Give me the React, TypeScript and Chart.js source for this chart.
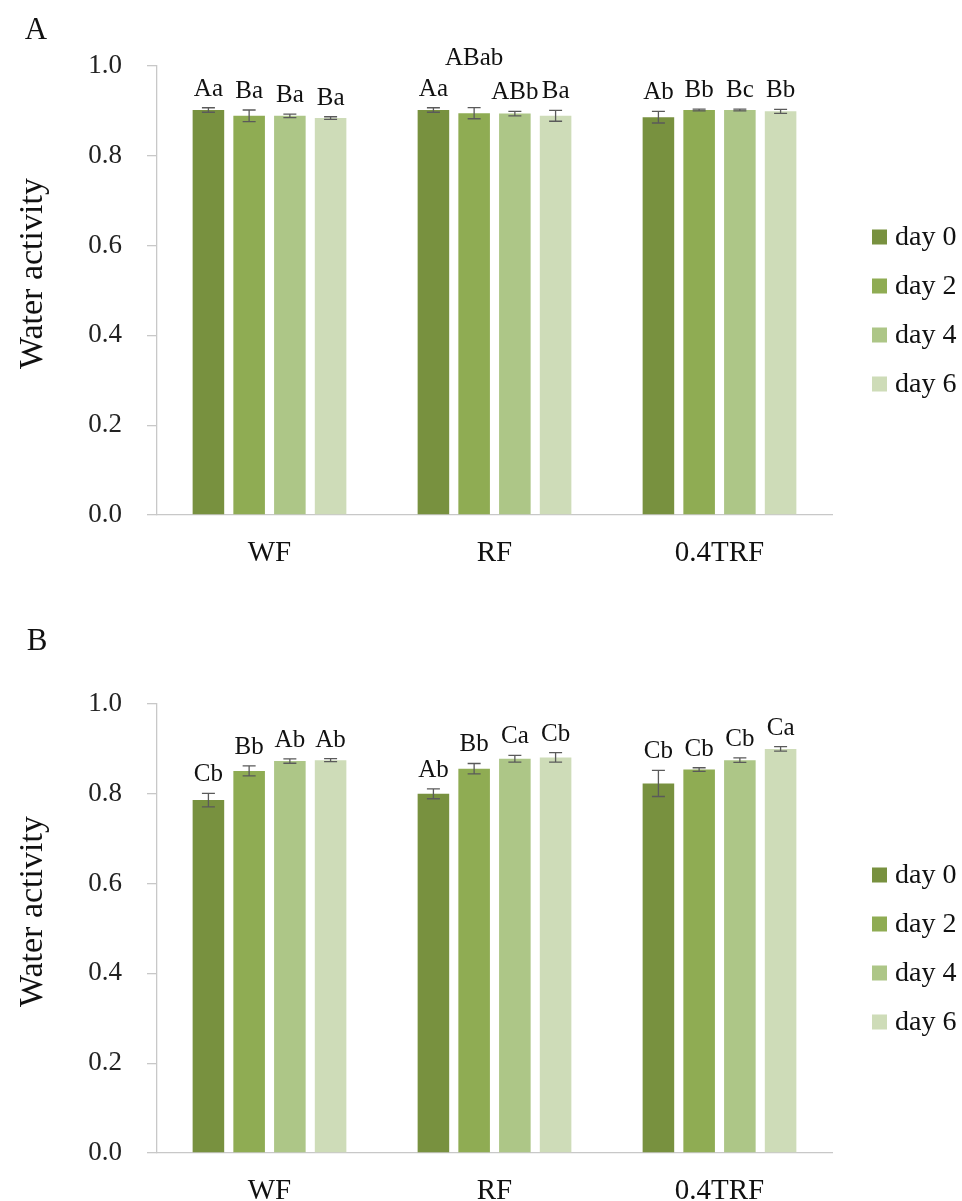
import React, { useEffect, useRef } from 'react';
import { Chart, registerables } from 'chart.js';

Chart.register(...registerables);

// ---------- data ----------
const categories = ['WF', 'RF', '0.4TRF'];
const seriesNames = ['day 0', 'day 2', 'day 4', 'day 6'];
const seriesColors = ['#78913f', '#8fac53', '#adc687', '#cedcb8'];
const yAxisTitle = 'Water activity';

// Panel A
const day0A = [0.902, 0.902, 0.886];
const day2A = [0.889, 0.895, 0.902];
const day4A = [0.889, 0.894, 0.902];
const day6A = [0.884, 0.889, 0.899];
const day0AErr = [0.005, 0.005, 0.013];
const day2AErr = [0.013, 0.0125, 0.002];
const day4AErr = [0.004, 0.005, 0.002];
const day6AErr = [0.003, 0.012, 0.0045];
const day0ALetters = ['Aa', 'Aa', 'Ab'];
const day2ALetters = ['Ba', 'ABab', 'Bb'];
const day4ALetters = ['Ba', 'ABb', 'Bc'];
const day6ALetters = ['Ba', 'Ba', 'Bb'];

// Panel B
const day0B = [0.786, 0.8, 0.823];
const day2B = [0.851, 0.856, 0.854];
const day4B = [0.873, 0.878, 0.875];
const day6B = [0.875, 0.881, 0.9];
const day0BErr = [0.015, 0.011, 0.029];
const day2BErr = [0.011, 0.0115, 0.004];
const day4BErr = [0.005, 0.0075, 0.005];
const day6BErr = [0.0035, 0.0105, 0.005];
const day0BLetters = ['Cb', 'Ab', 'Cb'];
const day2BLetters = ['Bb', 'Bb', 'Cb'];
const day4BLetters = ['Ab', 'Ca', 'Cb'];
const day6BLetters = ['Ab', 'Cb', 'Ca'];

const FONT = '"Liberation Serif", "Times New Roman", Times, serif';

type PanelProps = {
  letter: string;
  values: number[][];
  errors: number[][];
  letters: string[][];
  width: number;
  height: number;
  areaTop: number;
  areaBottom: number;
  letterX: number;
  letterY: number;
};

function Panel(props: PanelProps) {
  const ref = useRef<HTMLCanvasElement | null>(null);
  useEffect(() => {
    const canvas = ref.current;
    if (!canvas) return;
    const { values, errors, letters, width, height, areaTop, areaBottom } = props;

    const errorBars = {
      id: 'errorBars',
      afterDatasetsDraw(chart: any) {
        const ctx = chart.ctx;
        const ys = chart.scales.y;
        ctx.save();
        ctx.strokeStyle = '#5a5a5a';
        ctx.lineWidth = 1.3;
        chart.data.datasets.forEach((ds: any, i: number) => {
          const meta = chart.getDatasetMeta(i);
          meta.data.forEach((bar: any, j: number) => {
            const v = values[i][j];
            const e = errors[i][j];
            const x = bar.x;
            const yTop = ys.getPixelForValue(v + e);
            const yBot = ys.getPixelForValue(v - e);
            const cap = 6.5;
            ctx.beginPath();
            ctx.moveTo(x, yTop);
            ctx.lineTo(x, yBot);
            ctx.moveTo(x - cap, yTop);
            ctx.lineTo(x + cap, yTop);
            ctx.moveTo(x - cap, yBot);
            ctx.lineTo(x + cap, yBot);
            ctx.stroke();
          });
        });
        ctx.restore();
      },
    };

    const letterLabels = {
      id: 'letterLabels',
      afterDatasetsDraw(chart: any) {
        const ctx = chart.ctx;
        const ys = chart.scales.y;
        const fs = 25;
        ctx.save();
        ctx.font = `${fs}px ${FONT}`;
        ctx.fillStyle = '#111';
        ctx.textAlign = 'center';
        ctx.textBaseline = 'alphabetic';
        const nCat = chart.data.labels.length;
        for (let j = 0; j < nCat; j++) {
          const placed: { l: number; r: number; y: number }[] = [];
          for (let i = 0; i < chart.data.datasets.length; i++) {
            const bar = chart.getDatasetMeta(i).data[j];
            const text = letters[i][j];
            const w = ctx.measureText(text).width;
            const l = bar.x - w / 2 - 1;
            const r = bar.x + w / 2 + 1;
            let y = ys.getPixelForValue(values[i][j] + errors[i][j]) - 12;
            let moved = true;
            while (moved) {
              moved = false;
              for (const p of placed) {
                if (l < p.r && r > p.l && Math.abs(y - p.y) < fs * 1.1) {
                  y = p.y - fs * 1.25;
                  moved = true;
                }
              }
            }
            placed.push({ l, r, y });
            ctx.fillText(text, bar.x, y);
          }
        }
        ctx.restore();
      },
    };

    const sideLegend = {
      id: 'sideLegend',
      afterDraw(chart: any) {
        const ctx = chart.ctx;
        const a = chart.chartArea;
        ctx.save();
        ctx.font = `28px ${FONT}`;
        ctx.textAlign = 'left';
        ctx.textBaseline = 'middle';
        chart.data.datasets.forEach((ds: any, i: number) => {
          const cy = a.top + 171 + 49 * i;
          ctx.fillStyle = ds.backgroundColor;
          ctx.fillRect(872, cy - 7.5, 15, 15);
          ctx.fillStyle = '#111';
          ctx.fillText(ds.label, 895, cy + 1);
        });
        ctx.restore();
      },
    };

    const textDecor = {
      id: 'textDecor',
      afterDraw(chart: any) {
        const ctx = chart.ctx;
        const a = chart.chartArea;
        ctx.save();
        ctx.fillStyle = '#111';
        ctx.textAlign = 'center';
        ctx.textBaseline = 'middle';
        ctx.font = `31px ${FONT}`;
        ctx.fillText(props.letter, props.letterX, props.letterY);
        ctx.translate(33, (a.top + a.bottom) / 2 - 17);
        ctx.rotate(-Math.PI / 2);
        ctx.font = `34px ${FONT}`;
        ctx.fillText(yAxisTitle, 0, 0);
        ctx.restore();
      },
    };

    const chart = new Chart(canvas, {
      type: 'bar',
      data: {
        labels: categories,
        datasets: seriesNames.map((name, i) => ({
          label: name,
          data: values[i],
          backgroundColor: seriesColors[i],
          borderWidth: 0,
          categoryPercentage: 0.724,
          barPercentage: 0.775,
        })),
      },
      options: {
        responsive: false,
        animation: false,
        devicePixelRatio: 1,
        layout: { padding: { top: areaTop, right: 130, left: 0, bottom: 0 } },
        plugins: {
          legend: { display: false },
          tooltip: { enabled: false },
          title: { display: false },
        },
        scales: {
          x: {
            grid: { display: false, drawTicks: false },
            border: { display: true, color: '#c8c8c8', width: 1.3 },
            ticks: {
              color: '#111',
              font: { family: FONT, size: 29 },
              padding: 21,
              maxRotation: 0,
            },
            afterFit: (s: any) => {
              s.height = height - areaBottom;
            },
          },
          y: {
            min: 0,
            max: 1,
            ticks: {
              stepSize: 0.2,
              color: '#222',
              font: { family: FONT, size: 27 },
              padding: 25,
              callback: (v: any) => Number(v).toFixed(1),
            },
            grid: {
              drawOnChartArea: false,
              drawTicks: true,
              tickLength: 10,
              color: '#c8c8c8',
              lineWidth: 1.3,
            },
            border: { display: true, color: '#c8c8c8', width: 1.3 },
            title: { display: false },
            afterFit: (s: any) => {
              s.width = 157;
            },
          },
        },
      },
      plugins: [errorBars, letterLabels, sideLegend, textDecor],
    } as any);
    return () => chart.destroy();
  }, []);
  return (
    <canvas
      ref={ref}
      width={props.width}
      height={props.height}
      style={{ display: 'block', width: props.width, height: props.height }}
    />
  );
}

export default function App() {
  return (
    <div style={{ position: 'absolute', left: 0, top: 0, width: 962, height: 1201, background: '#fff' }}>
      <Panel
        letter="A"
        values={[day0A, day2A, day4A, day6A]}
        errors={[day0AErr, day2AErr, day4AErr, day6AErr]}
        letters={[day0ALetters, day2ALetters, day4ALetters, day6ALetters]}
        width={962}
        height={600}
        areaTop={66}
        areaBottom={515}
        letterX={36}
        letterY={31}
      />
      <Panel
        letter="B"
        values={[day0B, day2B, day4B, day6B]}
        errors={[day0BErr, day2BErr, day4BErr, day6BErr]}
        letters={[day0BLetters, day2BLetters, day4BLetters, day6BLetters]}
        width={962}
        height={601}
        areaTop={104}
        areaBottom={553}
        letterX={37}
        letterY={42}
      />
    </div>
  );
}
